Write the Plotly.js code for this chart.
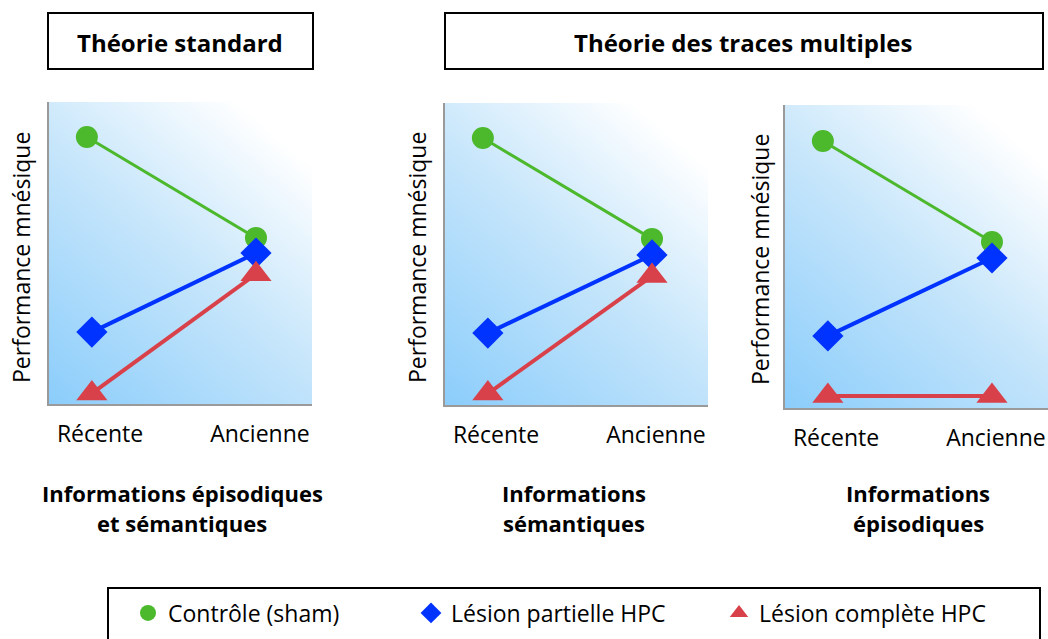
<!DOCTYPE html>
<html>
<head>
<meta charset="utf-8">
<script src="https://cdn.plot.ly/plotly-3.0.1.min.js"></script>
<style>html,body{margin:0;padding:0;background:#fff;}#chart{width:1048px;height:639px;}</style>
</head>
<body>
<div id="chart"></div>
<script>
// ---- data ----
const categories = ['Récente', 'Ancienne'];
const categoryPos = [1.94, 8.02];
const xControl = [1.44, 7.87];
const xLesion = [1.63, 7.87];

const seriesNames = ['Contrôle (sham)', 'Lésion partielle HPC', 'Lésion complète HPC'];

const standardControl = [8.84, 5.50];
const standardPartial = [2.38, 5.00];
const standardComplete = [0.35, 4.30];

const semanticControl = [8.84, 5.50];
const semanticPartial = [2.38, 4.97];
const semanticComplete = [0.38, 4.27];

const episodicControl = [8.81, 5.48];
const episodicPartial = [2.38, 4.95];
const episodicComplete = [0.40, 0.40];

const panelTitles = [['Informations épisodiques', 'et sémantiques'], ['Informations', 'sémantiques'], ['Informations', 'épisodiques']];
const theoryTitles = ['Théorie standard', 'Théorie des traces multiples'];
const yTitle = 'Performance mnésique';

// ---- styles ----
const GREEN = '#4cb82c', BLUE = '#0033ff', RED = '#d9414a';
const W = 1048, H = 639;
const px = v => v / W, py = v => 1 - v / H;

const panels = [
  {x: [49, 312], y: [102, 404], data: [standardControl, standardPartial, standardComplete], titleX: 182, ytx: 21, yty: 258},
  {x: [445, 708], y: [103, 405], data: [semanticControl, semanticPartial, semanticComplete], titleX: 574, ytx: 417, yty: 258},
  {x: [785, 1048], y: [105, 408], data: [episodicControl, episodicPartial, episodicComplete], titleX: 918, ytx: 760, yty: 260}
];

// gradient background image
function gradientURL() {
  const c = document.createElement('canvas');
  c.width = 263; c.height = 302;
  const g = c.getContext('2d');
  const gr = g.createLinearGradient(0, c.height, c.width, 0);
  gr.addColorStop(0, '#8bcdfb');
  gr.addColorStop(0.5, '#c7e6fb');
  gr.addColorStop(0.88, '#ffffff');
  gr.addColorStop(1, '#ffffff');
  g.fillStyle = gr;
  g.fillRect(0, 0, c.width, c.height);
  return c.toDataURL('image/png');
}
const bg = gradientURL();

const traces = [];
const layout = {
  width: W, height: H,
  margin: {l: 0, r: 0, t: 0, b: 0},
  paper_bgcolor: '#ffffff',
  plot_bgcolor: 'rgba(0,0,0,0)',
  font: {family: 'Open Sans, sans-serif', color: '#000', size: 23},
  showlegend: true,
  shapes: [], annotations: [], images: []
};

const markerDefs = [
  {symbol: 'circle', size: 22, color: GREEN, lw: 3},
  {symbol: 'diamond', size: 24, color: BLUE, lw: 4},
  {symbol: 'triangle-up', size: 27, color: RED, lw: 4}
];

panels.forEach((p, i) => {
  const n = i === 0 ? '' : String(i + 1);
  const xa = 'x' + n, ya = 'y' + n;
  layout['xaxis' + n] = {
    domain: [px(p.x[0]), px(p.x[1])], range: [0, 10], anchor: ya,
    showgrid: false, zeroline: false, showline: true, linecolor: '#9a9a9a', linewidth: 2,
    tickvals: categoryPos, ticktext: categories, ticks: 'outside', ticklen: 8, tickcolor: 'rgba(0,0,0,0)',
    tickfont: {size: 23, family: 'Open Sans, sans-serif'}, fixedrange: true
  };
  layout['yaxis' + n] = {
    domain: [py(p.y[1]), py(p.y[0])], range: [0, 10], anchor: xa,
    showgrid: false, zeroline: false, showline: true, linecolor: '#9a9a9a', linewidth: 2,
    showticklabels: false, ticks: '', fixedrange: true
  };
  layout.images.push({source: bg, xref: 'paper', yref: 'paper', x: px(p.x[0]), y: py(p.y[1]),
    sizex: px(p.x[1]) - px(p.x[0]), sizey: py(p.y[0]) - py(p.y[1]), xanchor: 'left', yanchor: 'bottom',
    sizing: 'stretch', layer: 'below'});
  p.data.forEach((vals, k) => {
    const m = markerDefs[k];
    traces.push({
      type: 'scatter', mode: 'lines+markers', xaxis: xa, yaxis: ya,
      x: k === 0 ? xControl : xLesion, y: vals, name: seriesNames[k], showlegend: false,
      line: {color: m.color, width: m.lw},
      marker: {symbol: m.symbol, size: m.size, color: m.color, line: {width: 0}},
      hoverinfo: 'skip'
    });
  });
  layout.annotations.push({xref: 'paper', yref: 'paper', x: px(p.ytx), y: py(p.yty), text: yTitle,
    textangle: -90, showarrow: false, xanchor: 'center', yanchor: 'middle', font: {size: 23}});
  panelTitles[i].forEach((t, j) => {
    layout.annotations.push({xref: 'paper', yref: 'paper', x: px(p.titleX), y: py(493 + j * 30), text: '<b>' + t + '</b>',
      showarrow: false, xanchor: 'center', yanchor: 'middle', font: {size: 22}});
  });
});

// theory title boxes
const boxes = [[48, 313], [445, 1043]];
boxes.forEach((b, i) => {
  layout.shapes.push({type: 'rect', xref: 'paper', yref: 'paper', x0: px(b[0]), x1: px(b[1]), y0: py(69), y1: py(13),
    line: {color: '#000', width: 2}, fillcolor: '#fff', layer: 'below'});
  layout.annotations.push({xref: 'paper', yref: 'paper', x: px((b[0] + b[1]) / 2 - 1), y: py(43), text: '<b>' + theoryTitles[i] + '</b>',
    showarrow: false, xanchor: 'center', yanchor: 'middle', font: {size: 24}});
});

// legend frame
layout.shapes.push({type: 'rect', xref: 'paper', yref: 'paper', x0: px(108), x1: px(1040), y0: py(660), y1: py(588),
  line: {color: '#000', width: 2}, fillcolor: 'rgba(0,0,0,0)'});

// legend entries (three legends, positioned)
const legendX = [128, 411, 719];
markerDefs.forEach((m, k) => {
  const key = k === 0 ? 'legend' : 'legend' + (k + 1);
  traces.push({type: 'scatter', mode: 'markers', x: [null], y: [null], name: seriesNames[k], legend: key,
    marker: {symbol: m.symbol, size: m.size, color: m.color}, showlegend: true, hoverinfo: 'skip'});
  layout[key] = {x: px(legendX[k]), y: py(613), xanchor: 'left', yanchor: 'middle', bgcolor: 'rgba(0,0,0,0)',
    borderwidth: 0, font: {size: 23}, orientation: 'h', itemclick: false, itemdoubleclick: false};
});

Plotly.newPlot('chart', traces, layout, {displayModeBar: false, staticPlot: true});
</script>
</body>
</html>
